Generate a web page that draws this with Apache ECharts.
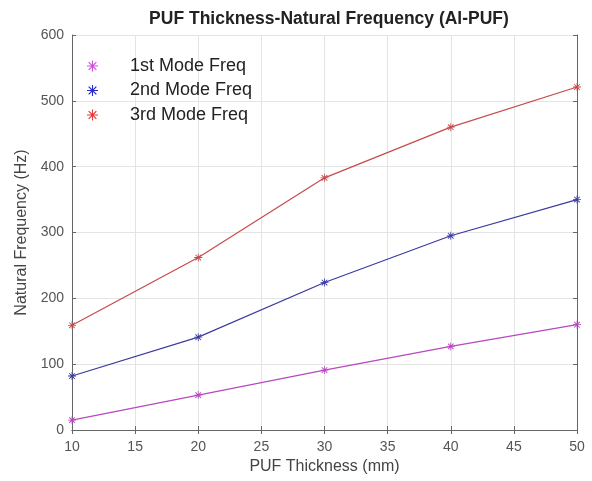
<!DOCTYPE html>
<html>
<head>
<meta charset="utf-8">
<script src="https://cdn.jsdelivr.net/npm/echarts@6/dist/echarts.min.js"></script>
<style>
html, body { margin: 0; padding: 0; background: #fff; }
#main { width: 592px; height: 481px; }
</style>
</head>
<body>
<div id="main"></div>
<script>
var thickness = [10, 20, 30, 40, 50];
var mode1 = [15, 53, 91, 127, 160];
var mode2 = [82, 141, 224, 295, 350];
var mode3 = [159, 262, 383, 460, 521];
var seriesNames = ['1st Mode Freq', '2nd Mode Freq', '3rd Mode Freq'];

// asterisk marker like matlab '*'
var star = 'path://M4.5,0L5.5,0L5.5,10L4.5,10Z M0,4.5L10,4.5L10,5.5L0,5.5Z M1.1,1.9L1.9,1.1L8.9,8.1L8.1,8.9Z M8.1,1.1L8.9,1.9L1.9,8.9L1.1,8.1Z';

var lineColors = ['#b848c0', '#3a3aa0', '#c84a4a'];
var legendColors = ['#d050e0', '#2a2ad0', '#e83a3a'];
var axisColor = '#666';
var fontFam = 'Liberation Sans, Arial, sans-serif';

function pairs(ys) {
    var out = [];
    for (var i = 0; i < thickness.length; i++) out.push([thickness[i], ys[i]]);
    return out;
}

var chartDom = document.getElementById('main');
var myChart = echarts.init(chartDom);

// top / right axes only close the box
var boxAxis = {
    axisLine: { show: true, lineStyle: { color: axisColor, width: 1 } },
    axisTick: { show: true, inside: true, length: 4, lineStyle: { color: axisColor } },
    axisLabel: { show: false },
    splitLine: { show: false }
};

var option = {
    animation: false,
    title: {
        text: 'PUF Thickness-Natural Frequency (Al-PUF)',
        left: 324, top: 5, textAlign: 'center',
        textStyle: { fontSize: 17.5, fontWeight: 'bold', color: '#222', fontFamily: fontFam }
    },
    legend: {
        left: 82, top: 52, orient: 'vertical',
        itemWidth: 11, itemHeight: 11, itemGap: 6.5,
        data: seriesNames.map(function (n, i) {
            return { name: n, icon: star, itemStyle: { color: legendColors[i] } };
        }),
        textStyle: { fontSize: 18, lineHeight: 18, color: '#222', fontFamily: fontFam, padding: [0, 0, 0, 27] }
    },
    grid: { left: 72, right: 15, top: 35, bottom: 51 },
    xAxis: [{
        type: 'value', min: 10, max: 50, interval: 5,
        name: 'PUF Thickness (mm)', nameLocation: 'middle', nameGap: 27,
        nameTextStyle: { fontSize: 16, color: '#444', fontFamily: fontFam },
        axisLine: { show: true, lineStyle: { color: axisColor } },
        axisTick: { show: true, inside: true, length: 4, lineStyle: { color: axisColor } },
        axisLabel: { fontSize: 14, color: '#555', fontFamily: fontFam, margin: 10 },
        splitLine: { show: true, lineStyle: { color: '#e4e4e4' } }
    }, Object.assign({ type: 'value', min: 10, max: 50, interval: 5, position: 'top' }, boxAxis)],
    yAxis: [{
        type: 'value', min: 0, max: 600, interval: 100,
        name: 'Natural Frequency (Hz)', nameLocation: 'middle', nameGap: 37,
        nameTextStyle: { fontSize: 16, color: '#444', fontFamily: fontFam },
        axisLine: { show: true, lineStyle: { color: axisColor } },
        axisTick: { show: true, inside: true, length: 4, lineStyle: { color: axisColor } },
        axisLabel: { fontSize: 14, color: '#555', fontFamily: fontFam, margin: 8 },
        splitLine: { show: true, lineStyle: { color: '#e4e4e4' } }
    }, Object.assign({ type: 'value', min: 0, max: 600, interval: 100, position: 'right' }, boxAxis)],
    series: [mode1, mode2, mode3].map(function (ys, i) {
        return {
            name: seriesNames[i],
            type: 'line',
            data: pairs(ys),
            symbol: star,
            symbolSize: 8,
            showSymbol: true,
            lineStyle: { color: lineColors[i], width: 1.2 },
            itemStyle: { color: lineColors[i] }
        };
    })
};

myChart.setOption(option);
</script>
</body>
</html>
